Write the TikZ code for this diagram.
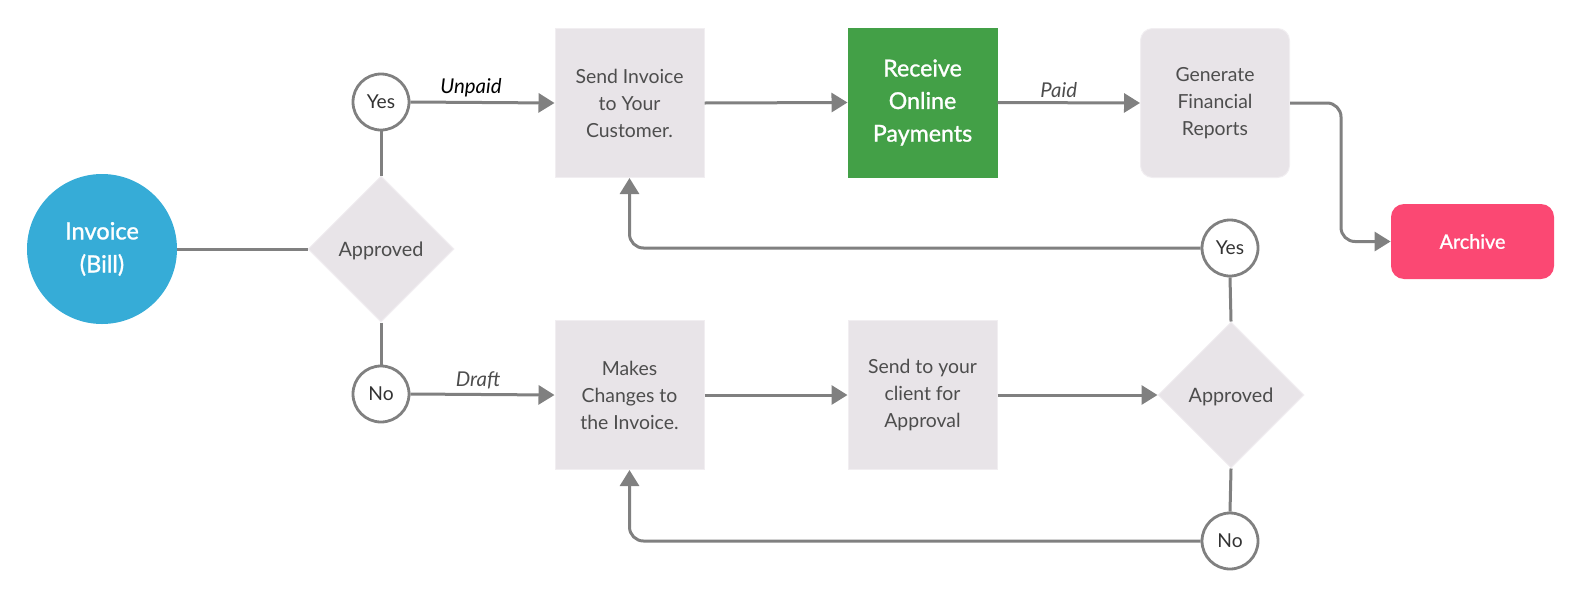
\documentclass[tikz,border=0pt]{standalone}
\usepackage{fontspec}
\setmainfont{Lato}
\newfontfamily\semib{Lato}[FakeBold=1.2]
\usetikzlibrary{shapes.geometric,arrows.meta}
\definecolor{boxfill}{HTML}{E8E4E8}
\definecolor{boxedge}{HTML}{F1EEF1}
\definecolor{linegray}{HTML}{808080}
\definecolor{txtgray}{HTML}{4D4D4D}
\definecolor{okgreen}{HTML}{43A047}
\definecolor{invblue}{HTML}{36ACD7}
\definecolor{archpink}{HTML}{FB4873}
\tikzset{
  procbox/.style={rectangle, fill=boxfill, draw=boxedge, line width=0.5pt,
    minimum width=74.5pt, minimum height=74.5pt, inner sep=0pt, align=center,
    text=txtgray, font=\fontsize{9.7}{13.5}\selectfont},
  decide/.style={diamond, fill=boxfill, draw=boxedge, line width=0.5pt,
    minimum width=73pt, minimum height=73pt, inner sep=0pt, aspect=1,
    text depth=0pt, text=txtgray, font=\fontsize{9.9}{13.5}\selectfont},
  answer/.style={circle, fill=white, draw=linegray, line width=1.4pt,
    minimum size=28pt, inner sep=0pt, text=black!80,
    font=\fontsize{9.6}{11}\selectfont},
  conn/.style={draw=linegray, line width=1.5pt},
  arr/.style={conn, -{Triangle[length=8pt,width=9.5pt]}},
  lbl/.style={font=\fontsize{10.2}{11}\selectfont\itshape, text=txtgray, above, inner sep=2pt}
}
\begin{document}
\begin{tikzpicture}[x=0.5pt,y=-0.5pt]
\useasboundingbox (0,0) rectangle (1582,600);
% nodes
\node[circle, fill=invblue, minimum size=75pt, inner sep=0pt, align=center,
  text=white, font=\semib\fontsize{11.8}{16.5}\selectfont] (inv) at (102,249) {Invoice\\(Bill)};
\node[decide] (d1) at (381,249) {Approved};
\node[answer] (y1) at (381,102) {Yes};
\node[answer] (n1) at (381,394) {No};
\node[procbox] (send) at (629.5,103) {Send Invoice\\to Your\\Customer.};
\node[procbox, fill=okgreen, draw=okgreen, text=white,
  font=\semib\fontsize{11.6}{16.3}\selectfont] (recv) at (922.5,102.5) {Receive\\Online\\Payments};
\node[procbox, rounded corners=6pt] (gen) at (1215,103) {Generate\\Financial\\Reports};
\node[rectangle, rounded corners=6.5pt, fill=archpink, minimum width=81.5pt,
  minimum height=37.5pt, inner sep=0pt, text=white,
  font=\semib\fontsize{9.9}{12}\selectfont] (arch) at (1472.5,241.5) {Archive};
\node[procbox] (make) at (629.5,395) {Makes\\Changes to\\the Invoice.};
\node[procbox] (client) at (922.5,395) {Send to your\\client for\\Approval};
\node[decide] (d2) at (1231,395) {Approved};
\node[answer] (y2) at (1230,248) {Yes};
\node[answer] (n2) at (1230,541) {No};
% connectors
\draw[conn] (inv.east) -- (d1.west);
\draw[conn] (d1.north) -- (y1.south);
\draw[conn] (d1.south) -- (n1.north);
\draw[arr] (y1.east) -- node[lbl, pos=0.42, text=black] {Unpaid} (send.west);
\draw[arr] (n1.east) -- node[lbl, pos=0.47] {Draft} (make.west);
\draw[arr] (send.east) -- (recv.west);
\draw[arr] (recv.east) -- node[lbl, pos=0.43] {Paid} (gen.west);
\draw[arr, rounded corners=7pt] (gen.east) -- ++(51,0) |- (arch.west);
\draw[arr] (make.east) -- (client.west);
\draw[arr] (client.east) -- (d2.west);
\draw[conn] (d2.north) -- (y2.south);
\draw[conn] (d2.south) -- (n2.north);
\draw[arr, rounded corners=7pt] (y2.west) -| (send.south);
\draw[arr, rounded corners=7pt] (n2.west) -| (make.south);
\end{tikzpicture}
\end{document}
